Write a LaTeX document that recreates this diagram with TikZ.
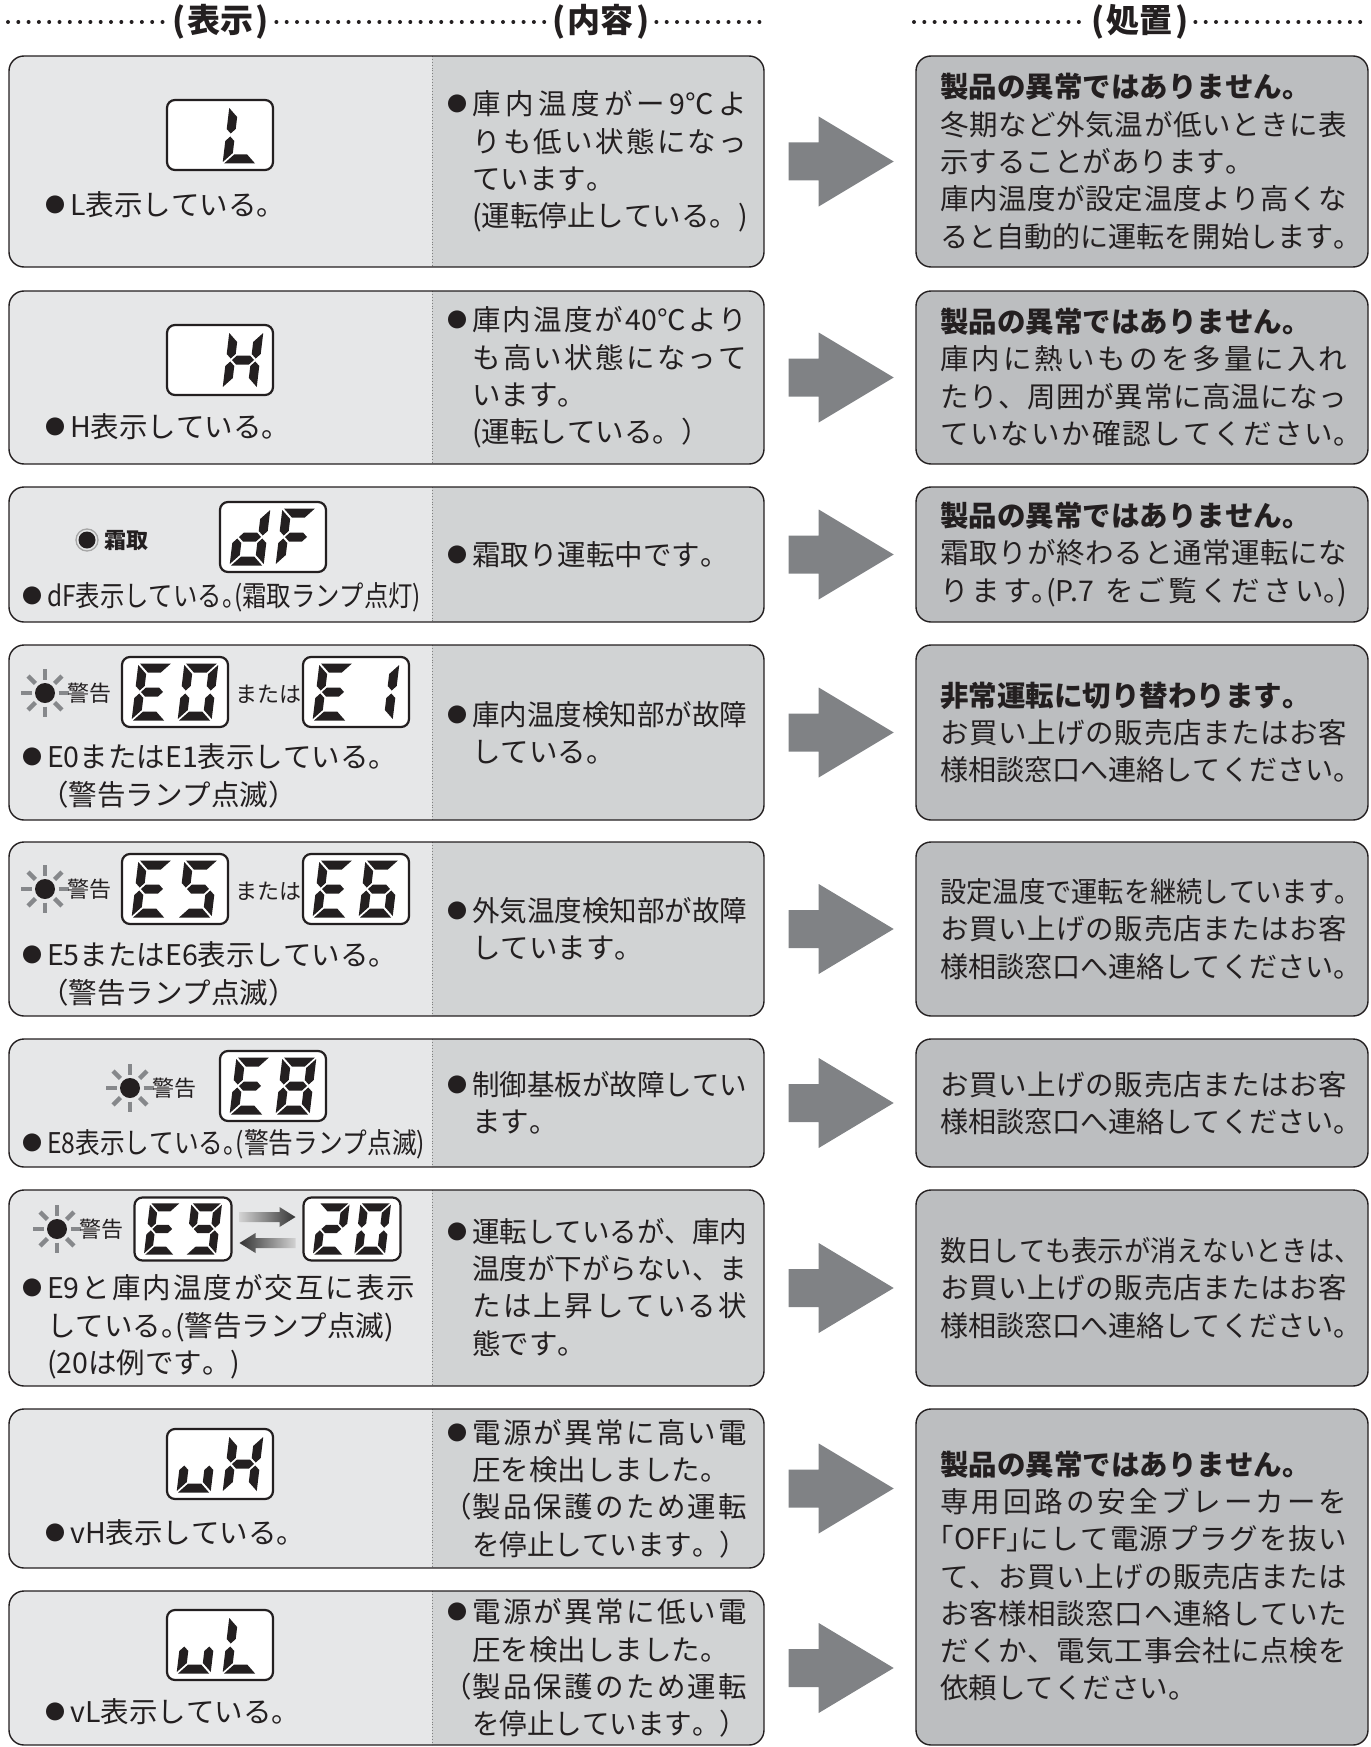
\documentclass[tikz,border=0pt]{standalone}
\usepackage{fontspec}
\usepackage{graphicx}
\setmainfont{Noto Sans CJK JP}
\usetikzlibrary{calc}

\definecolor{ink}{HTML}{231F20}
\definecolor{panel}{HTML}{E6E7E8}
\definecolor{panelb}{HTML}{D1D3D4}
\definecolor{actfill}{HTML}{BCBEC0}
\definecolor{arrowfill}{HTML}{808285}
\definecolor{rayfill}{HTML}{86888B}

% glue between Japanese characters, so that a line can be spread to its column
\newcount\jcount
\jcount="3000
\loop\XeTeXcharclass\jcount=5 \advance\jcount by 1 \ifnum\jcount<"A000 \repeat
\jcount="FF00
\loop\XeTeXcharclass\jcount=5 \advance\jcount by 1 \ifnum\jcount<"FFF0 \repeat
\XeTeXinterchartoks 5 5 = {\hskip 0pt plus 2pt\relax}
\XeTeXinterchartoks 0 5 = {\hskip 0pt plus 2pt\relax}
\XeTeXinterchartoks 5 0 = {\hskip 0pt plus 2pt\relax}
\XeTeXinterchartokenstate=1

\newsavebox\fitbox
\newcommand\fitline[2]{\sbox\fitbox{#2}\ifdim\wd\fitbox>#1\relax\resizebox{#1}{\height}{\usebox\fitbox}\else\makebox[#1][s]{#2}\fi}
\newcommand\jc[1]{\fitline{275pt}{#1}}
\newcommand\ja[1]{\fitline{407pt}{#1}}
\newcommand\bul{\makebox[25pt][l]{\raisebox{3pt}{\fontsize{20}{20}\selectfont ●}}}
\newcommand\li{\hspace*{25pt}}
\newcommand\kuten{\makebox[14pt][l]{。}}
\newcommand\touten{\makebox[14pt][l]{、}}

% seven segment digits
\newcommand\sgA{\fill (-15.5,-28.5) -- (15.5,-28.5) -- (6.5,-19.5) -- (-6.5,-19.5) -- cycle;}
\newcommand\sgD{\fill (-15.5,28.5) -- (15.5,28.5) -- (6.5,19.5) -- (-6.5,19.5) -- cycle;}
\newcommand\sgF{\fill (-17,-27) -- (-8,-18) -- (-8,-6) -- (-12.5,-1.5) -- (-17,-6) -- cycle;}
\newcommand\sgE{\fill (-17,27) -- (-8,18) -- (-8,6) -- (-12.5,1.5) -- (-17,6) -- cycle;}
\newcommand\sgB{\fill (17,-27) -- (8,-18) -- (8,-6) -- (12.5,-1.5) -- (17,-6) -- cycle;}
\newcommand\sgC{\fill (17,27) -- (8,18) -- (8,6) -- (12.5,1.5) -- (17,6) -- cycle;}
\newcommand\sgG{\fill (-11,0) -- (-6.5,-4.5) -- (6.5,-4.5) -- (11,0) -- (6.5,4.5) -- (-6.5,4.5) -- cycle;}
\newcommand\lcdigit[2]{\begin{scope}[shift={(#1,0)}]\foreach \s in {#2}{\csname sg\s\endcsname}\end{scope}}
\newcommand\lcd[4][1]{\begin{scope}[shift={(#2.center)}, scale=#1, xslant=0.12, fill=ink]\lcdigit{-23}{#3}\lcdigit{23}{#4}\end{scope}}

\newcommand\rays[1]{\foreach \a in {0,45,...,315}{\draw[ray] ([shift={(\a:13.5)}]#1.center) -- ([shift={(\a:24)}]#1.center);}}
\newcommand\bigarrow[1]{\fill[arrowfill] (#1) ++(-52,-19) -- ++(30,0) -- ++(0,-26) -- ++(75,45) -- ++(-75,45) -- ++(0,-26) -- ++(-30,0) -- cycle;}

\begin{document}
\begin{tikzpicture}[x=1pt, y=-1pt,
  txt/.style={font=\fontsize{28.5}{37.3}\selectfont, text=ink, align=left, inner sep=0pt, anchor=west},
  lampcap/.style={font=\fontsize{22}{22}\selectfont, text=ink, inner sep=0pt, anchor=west},
  hdr/.style={font=\fontsize{33}{33}\selectfont\bfseries, text=ink, inner xsep=7pt, inner ysep=0pt},
  hdots/.style={draw=ink, line width=4pt, line cap=round, dash pattern=on 0pt off 10.3pt},
  divline/.style={draw=gray, line width=0.9pt, dotted},
  rowbox/.style={draw=ink, line width=1.4pt, fill=panel, rounded corners=15pt, minimum width=755pt, inner sep=0pt,
    path picture={\fill[panelb, sharp corners] ([xshift=423pt]path picture bounding box.north west) rectangle (path picture bounding box.south east);
      \draw[divline, sharp corners] ([xshift=423pt]path picture bounding box.north west) -- ([xshift=423pt]path picture bounding box.south west);}},
  actbox/.style={draw=ink, line width=1.4pt, fill=actfill, rounded corners=15pt, minimum width=452pt, inner sep=0pt},
  lcd/.style={draw=ink, line width=2.2pt, fill=white, rounded corners=8pt, minimum width=106pt, minimum height=70pt, inner sep=0pt},
  lcds/.style={lcd, minimum width=97pt, minimum height=63pt},
  lampdot/.style={circle, fill=ink, minimum size=20pt, inner sep=0pt},
  ray/.style={draw=rayfill, line width=4.5pt},
  frostdot/.style={circle, fill=ink, minimum size=17pt, inner sep=0pt},
  ring/.style={draw=gray!70, line width=1.3pt}]
  \useasboundingbox (0,0) rectangle (1370,1747);

  % headings
  \node[hdr] (hshow) at (221,22) {(\kern2pt表示\kern2pt)};
  \node[hdr] (hcont) at (601,22) {(\kern2pt内容\kern2pt)};
  \node[hdr] (hact) at (1140,22) {(\kern2pt処置\kern2pt)};
  \coordinate (hl) at (8,22);
  \coordinate (hr) at (768,22);
  \coordinate (hal) at (914,22);
  \coordinate (har) at (1370,22);
  \draw[hdots] (hl) -- (hshow.west);
  \draw[hdots] (hshow.east) -- (hcont.west);
  \draw[hdots] (hcont.east) -- (hr);
  \draw[hdots] (hal) -- (hact.west);
  \draw[hdots] (hact.east) -- (har);

  % boxes and arrows
  \foreach \n/\y/\h in {1/161.5/211, 2/377.5/173, 3/554.5/135, 4/732.5/175, 5/929/174,
      6/1103/128, 7/1288/196, 8/1488.5/159, 9/1668/154}
    \node[rowbox, minimum height=\h] (row\n) at (386.5,\y) {};
  \foreach \n/\y/\h in {1/161.5/211, 2/377.5/173, 3/554.5/135, 4/732.5/175, 5/929/174,
      6/1103/128, 7/1288/196, 8/1577/336}
    \node[actbox, minimum height=\h] (act\n) at (1142,\y) {};
  \foreach \n in {1,...,9}{\bigarrow{[xshift=76pt]row\n.east}}

  % L
  \node[lcd] (d1) at (220,135) {};
  \lcd{d1}{}{F,E,D}
  \node[txt] (l1) at (45,205) {\bul L表示している。};
  \node[txt] (c1) at (447,161.5) {\bul\jc{庫内温度がー9℃よ}\\\li\jc{りも低い状態になっ}\\\li ています。\\\li(運転停止している。)};
  \node[txt] (t1) at (940,161.5) {\textbf{製品の異常ではありません。}\\\ja{冬期など外気温が低いときに表}\\示することがあります。\\\ja{庫内温度が設定温度より高くな}\\\ja{ると自動的に運転を開始します\kuten}};

  % H
  \node[lcd] (d2) at (220,360) {};
  \lcd{d2}{}{F,E,G,B,C}
  \node[txt] (l2) at (45,427) {\bul H表示している。};
  \node[txt] (c2) at (447,377.5) {\bul\jc{庫内温度が40℃より}\\\li\jc{も高い状態になって}\\\li います。\\\li(運転している。）};
  \node[txt] (t2) at (940,377.5) {\textbf{製品の異常ではありません。}\\\ja{庫内に熱いものを多量に入れ}\\\ja{たり、周囲が異常に高温になっ}\\\ja{ていないか確認してください\kuten}};

  % dF
  \node[frostdot] (f3) at (87,540) {};
  \draw[ring] (f3.center) circle[radius=11];
  \node[lampcap, font=\fontsize{22}{22}\selectfont\bfseries] (f3t) at (104,540) {霜取};
  \node[lcd] (d3) at (273,537) {};
  \lcd{d3}{B,C,D,E,G}{A,F,G,E}
  \node[txt] (l3) at (22,597) {\bul\fitline{374pt}{dF表示している\kuten(霜取ランプ点灯)}};
  \node[txt] (c3) at (447,554.5) {\bul 霜取り運転中です。};
  \node[txt] (t3) at (940,554.5) {\textbf{製品の異常ではありません。}\\\ja{霜取りが終わると通常運転にな}\\\ja{ります\kuten(P.7 をご覧ください\kuten)}};

  % E0 / E1
  \node[lampdot] (w4) at (45,693) {};
  \rays{w4}
  \node[lampcap] (w4t) at (67,693) {警告};
  \node[lcd] (d4a) at (175,692) {};
  \lcd{d4a}{A,F,G,E,D}{A,B,C,D,E,F}
  \node[lampcap] (or4) at (235,694) {または};
  \node[lcd] (d4b) at (356,692) {};
  \lcd{d4b}{A,F,G,E,D}{B,C}
  \node[txt] (l4) at (22,776) {\bul E0またはE1表示している。\\\hspace*{18pt}（警告ランプ点滅）};
  \node[txt] (c4) at (447,732.5) {\bul\jc{庫内温度検知部が故障}\\\li している。};
  \node[txt] (t4) at (940,732.5) {\textbf{非常運転に切り替わります。}\\\ja{お買い上げの販売店またはお客}\\\ja{様相談窓口へ連絡してください\kuten}};

  % E5 / E6
  \node[lampdot] (w5) at (45,889) {};
  \rays{w5}
  \node[lampcap] (w5t) at (67,889) {警告};
  \node[lcd] (d5a) at (175,889) {};
  \lcd{d5a}{A,F,G,E,D}{A,F,G,C,D}
  \node[lampcap] (or5) at (235,891) {または};
  \node[lcd] (d5b) at (356,889) {};
  \lcd{d5b}{A,F,G,E,D}{A,F,G,E,C,D}
  \node[txt] (l5) at (22,974) {\bul E5またはE6表示している。\\\hspace*{18pt}（警告ランプ点滅）};
  \node[txt] (c5) at (447,929) {\bul\jc{外気温度検知部が故障}\\\li しています。};
  \node[txt] (t5) at (940,929) {\ja{設定温度で運転を継続しています\kuten}\\\ja{お買い上げの販売店またはお客}\\\ja{様相談窓口へ連絡してください\kuten}};

  % E8
  \node[lampdot] (w6) at (130,1088) {};
  \rays{w6}
  \node[lampcap] (w6t) at (152,1088) {警告};
  \node[lcd] (d6) at (273,1086) {};
  \lcd{d6}{A,F,G,E,D}{A,B,C,D,E,F,G}
  \node[txt] (l6) at (22,1144) {\bul\fitline{378pt}{E8表示している\kuten(警告ランプ点滅)}};
  \node[txt] (c6) at (447,1103) {\bul\jc{制御基板が故障してい}\\\li ます。};
  \node[txt] (t6) at (940,1103) {\ja{お買い上げの販売店またはお客}\\\ja{様相談窓口へ連絡してください\kuten}};

  % E9 and 20
  \node[lampdot] (w7) at (57,1229) {};
  \rays{w7}
  \node[lampcap] (w7t) at (79,1229) {警告};
  \node[lcds] (d7a) at (183,1229) {};
  \lcd[0.9]{d7a}{A,F,G,E,D}{A,B,C,D,F,G}
  \node[lcds] (d7b) at (352,1229) {};
  \lcd[0.9]{d7b}{A,B,G,E,D}{A,B,C,D,E,F}
  \coordinate (sw) at ($(d7a.east)!.5!(d7b.west)$);
  \shade[left color=gray!35, right color=black!80] ([shift={(-28,-17)}]sw) -- ++(40,0) -- ++(0,-5) -- ++(16,10) -- ++(-16,10) -- ++(0,-5) -- ++(-40,0) -- cycle;
  \shade[left color=black!80, right color=gray!35] ([shift={(28,9)}]sw) -- ++(-40,0) -- ++(0,-5) -- ++(-16,10) -- ++(16,10) -- ++(0,-5) -- ++(40,0) -- cycle;
  \node[txt] (l7) at (22,1327) {\bul\fitline{368pt}{E9と庫内温度が交互に表示}\\\li している\kuten(警告ランプ点滅)\\\li(20は例です。)};
  \node[txt] (c7) at (447,1287) {\bul\jc{運転しているが、庫内}\\\li\jc{温度が下がらない、ま}\\\li\jc{たは上昇している状}\\\li 態です。};
  \node[txt] (t7) at (940,1288) {\ja{数日しても表示が消えないときは\touten}\\\ja{お買い上げの販売店またはお客}\\\ja{様相談窓口へ連絡してください\kuten}};

  % vH / vL
  \node[lcd] (d8) at (220,1464) {};
  \lcd{d8}{E,D,C}{F,E,G,B,C}
  \node[txt] (l8) at (45,1533) {\bul vH表示している。};
  \node[txt] (c8) at (447,1488.5) {\bul\jc{電源が異常に高い電}\\\li 圧を検出しました。\\\makebox[25pt][r]{（}\jc{製品保護のため運転}\\\li\jc{を停止しています。）}};
  \node[lcd] (d9) at (220,1645) {};
  \lcd{d9}{E,D,C}{F,E,D}
  \node[txt] (l9) at (45,1712) {\bul vL表示している。};
  \node[txt] (c9) at (447,1668) {\bul\jc{電源が異常に低い電}\\\li 圧を検出しました。\\\makebox[25pt][r]{（}\jc{製品保護のため運転}\\\li\jc{を停止しています。）}};
  \node[txt] (t8) at (940,1576) {\textbf{製品の異常ではありません。}\\\ja{専用回路の安全ブレーカーを}\\\ja{\makebox[14pt][r]{「}OFF\makebox[14pt][l]{」}にして電源プラグを抜い}\\\ja{て、お買い上げの販売店または}\\\ja{お客様相談窓口へ連絡していた}\\\ja{だくか、電気工事会社に点検を}\\依頼してください。};
\end{tikzpicture}
\end{document}
